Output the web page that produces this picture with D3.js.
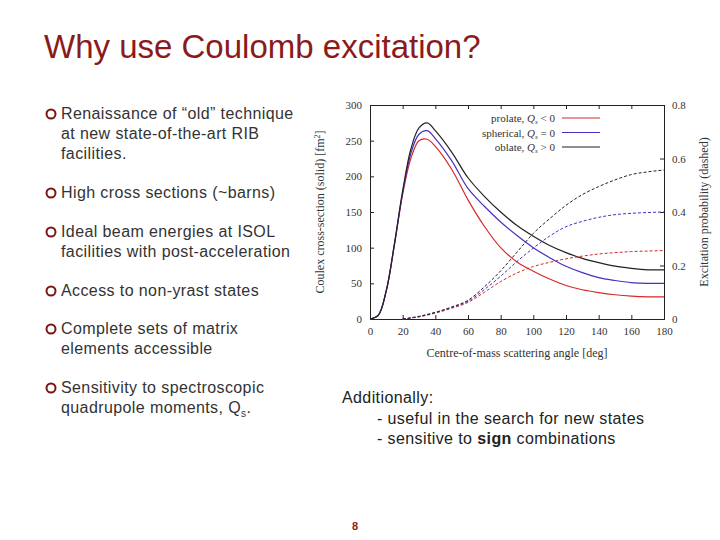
<!DOCTYPE html>
<html><head><meta charset="utf-8">
<script src="https://cdn.jsdelivr.net/npm/d3@7"></script>
<style>body{margin:0;background:#fff}</style>
</head><body>
<script>
const bullets = [
  ["Renaissance of \u201cold\u201d technique", "at new state-of-the-art RIB", "facilities."],
  ["High cross sections (~barns)"],
  ["Ideal beam energies at ISOL", "facilities with post-acceleration"],
  ["Access to non-yrast states"],
  ["Complete sets of matrix", "elements accessible"],
  ["Sensitivity to spectroscopic", "quadrupole moments, Q"]
];
const bulletY = [119, 198, 237, 296, 334, 393];

// angle in degrees
const angles = [0, 5, 10, 15, 20, 25, 30, 35, 40, 50, 60, 70, 80, 90, 100, 110, 120, 130, 140, 150, 160, 170, 180];
const xsProlate   = [0, 5, 40, 105, 175, 225, 250, 252, 242, 210, 167, 130, 100, 80, 67, 56, 47, 41, 37, 34, 32, 31, 31];
const xsSpherical = [0, 5, 40, 105, 177, 232, 259, 264, 253, 222, 183, 158, 136, 117, 100, 86, 74, 65, 58, 54, 51, 50, 50];
const xsOblate    = [0, 5, 40, 106, 180, 238, 268, 275, 264, 234, 198, 172, 150, 131, 116, 103, 93, 85, 79, 74, 71, 69, 69];
const dashAngles = [20, 30, 40, 50, 60, 70, 80, 90, 100, 110, 120, 130, 140, 150, 160, 170, 180];
const pProlate   = [0, 0.008, 0.022, 0.04, 0.062, 0.1, 0.14, 0.172, 0.196, 0.212, 0.225, 0.235, 0.243, 0.248, 0.252, 0.254, 0.256];
const pSpherical = [0, 0.009, 0.024, 0.043, 0.066, 0.11, 0.16, 0.215, 0.265, 0.31, 0.345, 0.365, 0.38, 0.39, 0.395, 0.398, 0.4];
const pOblate    = [0, 0.01, 0.025, 0.045, 0.07, 0.12, 0.18, 0.25, 0.32, 0.375, 0.425, 0.465, 0.495, 0.52, 0.54, 0.55, 0.557];
const xTicks = [0, 20, 40, 60, 80, 100, 120, 140, 160, 180];
const yTicks = [0, 50, 100, 150, 200, 250, 300];
const y2Ticks = [0, 0.2, 0.4, 0.6, 0.8];
const legendLabels = [["prolate, ", "Q", "s", " < 0"], ["spherical, ", "Q", "s", " = 0"], ["oblate, ", "Q", "s", " > 0"]];
const colors = ["#d42a2a", "#4a2fc4", "#222"];

const svg = d3.select("body").append("svg").attr("width", 720).attr("height", 540)
  .style("font-family", "Arial, 'Liberation Sans', sans-serif");

svg.append("text").attr("x", 44).attr("y", 58).attr("font-size", 33).attr("fill", "#8b1a1a")
  .text("Why use Coulomb excitation?");

bullets.forEach((b, i) => {
  svg.append("circle").attr("cx", 51).attr("cy", bulletY[i] - 5).attr("r", 4.5)
    .attr("fill", "none").attr("stroke", "#7a1515").attr("stroke-width", 2);
  b.forEach((line, j) => {
    const t = svg.append("text").attr("x", 61).attr("y", bulletY[i] + j * 20)
      .attr("font-size", 16).attr("letter-spacing", 0.4).attr("fill", "#333").text(line);
    if (i === 5 && j === 1) {
      t.append("tspan").attr("font-size", 10).attr("dy", 4).text("s");
      t.append("tspan").attr("dy", -4).text(".");
    }
  });
});

const add = svg.append("g").attr("font-size", 16).attr("letter-spacing", 0.4).attr("fill", "#222");
add.append("text").attr("x", 342).attr("y", 403).text("Additionally:");
add.append("text").attr("x", 377).attr("y", 424).text("- useful in the search for new states");
const l3 = add.append("text").attr("x", 377).attr("y", 444).text("- sensitive to ");
l3.append("tspan").attr("font-weight", "bold").text("sign");
l3.append("tspan").text(" combinations");
svg.append("text").attr("x", 355).attr("y", 530).attr("text-anchor", "middle").attr("font-size", 11)
  .attr("font-weight", "bold").attr("fill", "#8b1a1a").text("8");

// chart
const L = 370, R = 664, T = 105, B = 319;
const x = d3.scaleLinear().domain([0, 180]).range([L, R]);
const y = d3.scaleLinear().domain([0, 300]).range([B, T]);
const y2 = d3.scaleLinear().domain([0, 0.8]).range([B, T]);
const g = svg.append("g").style("font-family", "'Liberation Serif', 'DejaVu Serif', serif");

g.append("g").attr("transform", `translate(0,${B})`).call(d3.axisBottom(x).tickValues(xTicks).tickSize(-4).tickPadding(8));
g.append("g").attr("transform", `translate(0,${T})`).call(d3.axisTop(x).tickValues(xTicks).tickSize(-4).tickFormat(""));
g.append("g").attr("transform", `translate(${L},0)`).call(d3.axisLeft(y).tickValues(yTicks).tickSize(-4).tickPadding(8));
g.append("g").attr("transform", `translate(${R},0)`).call(d3.axisRight(y2).tickValues(y2Ticks).tickSize(-4).tickPadding(8).tickFormat(d => d === 0 ? "0" : d3.format(".1f")(d)));
g.selectAll(".domain").attr("stroke", "#222");
g.selectAll(".tick line").attr("stroke", "#222");
g.selectAll(".tick text").attr("font-size", 11).attr("fill", "#333").style("font-family", "'Liberation Serif', serif");

g.append("text").attr("x", (L + R) / 2).attr("y", 357).attr("text-anchor", "middle").attr("font-size", 12).attr("fill", "#333")
  .text("Centre-of-mass scattering angle [deg]");
const yl = g.append("text").attr("transform", `translate(324,${(T + B) / 2}) rotate(-90)`).attr("text-anchor", "middle").attr("font-size", 12).attr("fill", "#333")
  .text("Coulex cross-section (solid) [fm");
yl.append("tspan").attr("dy", -4).attr("font-size", 8).text("2");
yl.append("tspan").attr("dy", 4).text("]");
g.append("text").attr("transform", `translate(708,${(T + B) / 2}) rotate(-90)`).attr("text-anchor", "middle").attr("font-size", 12).attr("fill", "#333")
  .text("Excitation probability (dashed)");

const line1 = d3.line().x((d, i) => x(angles[i])).y(d => y(d)).curve(d3.curveCatmullRom);
const line2 = d3.line().x((d, i) => x(dashAngles[i])).y(d => y2(d)).curve(d3.curveMonotoneX);
[xsProlate, xsSpherical, xsOblate].forEach((s, i) => {
  g.append("path").attr("d", line1(s)).attr("fill", "none").attr("stroke", colors[i]).attr("stroke-width", 1.2);
});
[pProlate, pSpherical, pOblate].forEach((s, i) => {
  g.append("path").attr("d", line2(s)).attr("fill", "none").attr("stroke", colors[i]).attr("stroke-width", 1).attr("stroke-dasharray", "3,2");
});

legendLabels.forEach((lab, i) => {
  const ly = 118 + i * 14.5;
  const t = g.append("text").attr("x", 555).attr("y", ly + 4).attr("text-anchor", "end").attr("font-size", 11).attr("fill", "#333");
  t.append("tspan").text(lab[0]);
  t.append("tspan").attr("font-style", "italic").text(lab[1]);
  t.append("tspan").attr("font-style", "italic").attr("font-size", 7).attr("dy", 2).text(lab[2]);
  t.append("tspan").attr("dy", -2).text(lab[3]);
  g.append("line").attr("x1", 562).attr("x2", 600).attr("y1", ly).attr("y2", ly).attr("stroke", colors[i]).attr("stroke-width", 1.2);
});
</script>
</body></html>
